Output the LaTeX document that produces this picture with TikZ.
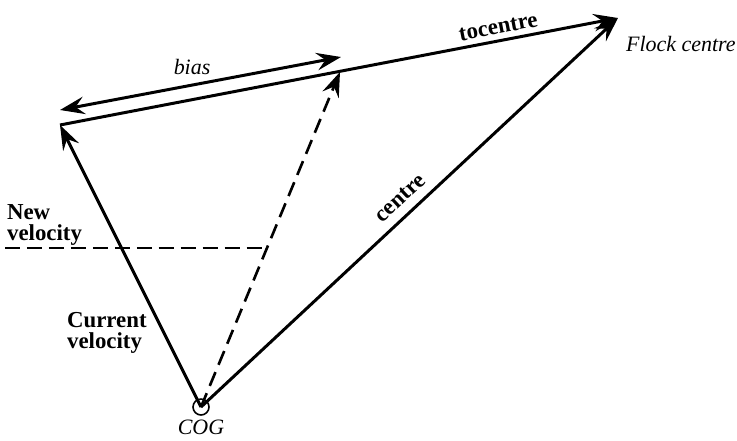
\documentclass[tikz,border=0pt]{standalone}
\usepackage{fontspec}
\setmainfont{Liberation Serif}
\usetikzlibrary{arrows.meta,positioning,calc}

\begin{document}
\begin{tikzpicture}[x=0.02cm, y=-0.02cm,
  tip/.style={>={Stealth[length=14pt,width=10pt,inset=5pt]}},
  vec/.style={tip, ->, line width=1.7pt},
  dvec/.style={vec, line width=1.5pt, dash pattern=on 8.5pt off 4.5pt},
  biasvec/.style={tip, <->, line width=1.7pt},
  guide/.style={line width=1.5pt, dash pattern=on 8.5pt off 4pt},
  lbl/.style={font=\fontsize{13}{12}\selectfont\bfseries, align=left, inner sep=1pt},
  ilbl/.style={font=\fontsize{12.5}{14}\selectfont\itshape, inner sep=1pt}
]
\useasboundingbox (0,0) rectangle (737,440);
% points
\node[draw, circle, line width=0.9pt, inner sep=0pt, minimum size=0.32cm] (cog) at (201,407) {};
\coordinate (cur) at (60,125);
\coordinate (flock) at (618,18);
\coordinate (newv) at (340,72);
\coordinate (biasl) at (60,110);
\coordinate (biasr) at (341,57);
\coordinate (nvl) at (5,248);
\coordinate (nvr) at (267,248);
% labels
\node[ilbl, below=1pt of cog] (coglbl) {COG};
\node[ilbl, anchor=west] (flocklbl) at (624,44) {Flock centre};
\node[lbl, anchor=north west] (newlbl) at (5,202) {New\\velocity};
\node[lbl, anchor=north west] (curlbl) at (65,310) {Current\\velocity};
% vectors
\draw[vec] (cog.center) -- (cur);
\draw[dvec] (cog.center) -- (newv);
\draw[vec] (cog.center) -- (flock)
  node[lbl, pos=0.505, sloped, above=4pt] (centrelbl) {centre};
\draw[vec] (cur) -- (flock)
  node[lbl, pos=0.79, sloped, above=2pt] (tocentrelbl) {tocentre};
\draw[biasvec] (biasl) -- (biasr)
  node[ilbl, pos=0.47, above=4pt] (biaslbl) {bias};
\draw[guide] (nvl) -- (nvr);
\end{tikzpicture}
\end{document}
